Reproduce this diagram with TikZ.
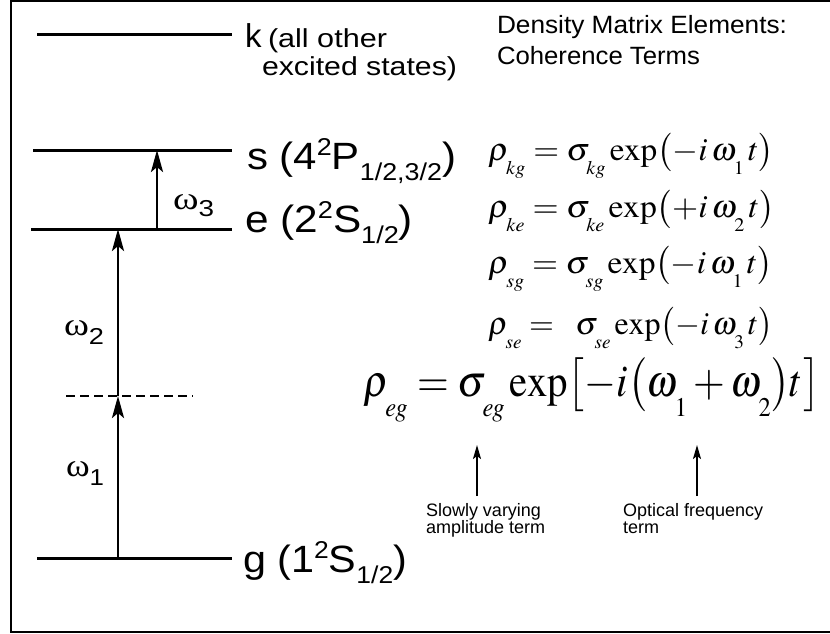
\documentclass[tikz,border=0pt]{standalone}
\usepackage{mathptmx}
\usepackage[no-math]{fontspec}
\newfontfamily\arial{Liberation Sans}
\newfontfamily\tms{Liberation Serif}
\usetikzlibrary{arrows.meta}
\newcommand\fs[1]{\fontsize{#1}{#1}\selectfont}
\newcommand\wid[2]{\resizebox{#1}{\height}{#2}}
\newcommand\upx[1]{\raisebox{0.36em}{\scalebox{0.64}{#1}}}
\newcommand\dnx[1]{\raisebox{-0.3em}{\scalebox{0.64}{#1}}}
\newcommand\lsb[1]{_{\raisebox{-0.3em}{$\scriptscriptstyle #1$}}}
\begin{document}
\begin{tikzpicture}[x=1pt,y=-1pt,
  txt/.style={inner sep=0pt,outer sep=0pt,anchor=base west},
  level/.style={line width=3pt},
  frame/.style={line width=2pt},
  excite/.style={line width=2.7pt,-{Stealth[length=22pt,width=12pt,inset=5pt]}},
  pointer/.style={line width=1.8pt,-{Stealth[length=14pt,width=8pt,inset=3pt]}},
  virtual/.style={line width=1.5pt,dash pattern=on 9pt off 5pt}]
\useasboundingbox (0,0) rectangle (830,634);
% frame
\draw[frame] (830,1.5) -- (11,1.5) -- (11,631.5) -- (830,631.5);
% levels
\coordinate (kA) at (37,35);  \coordinate (kB) at (232,35);
\coordinate (sA) at (33,150); \coordinate (sB) at (232,150);
\coordinate (eA) at (31,229); \coordinate (eB) at (232,229);
\coordinate (gA) at (37,558); \coordinate (gB) at (232,558);
\coordinate (vA) at (66,396); \coordinate (vB) at (193,396);
\draw[level] (kA) -- (kB);
\draw[level] (sA) -- (sB);
\draw[level] (eA) -- (eB);
\draw[level] (gA) -- (gB);
\draw[virtual] (vA) -- (vB);
% transitions
\coordinate (g1) at (118,558); \coordinate (v1) at (118,396); \coordinate (e1) at (118,229);
\coordinate (e3) at (157,229); \coordinate (s3) at (157,150);
\draw[excite] (g1) -- (v1);
\draw[excite] (v1) -- (e1);
\draw[excite] (e3) -- (s3);
% omega labels
\node[txt] (w3) at (173,209) {\wid{41pt}{\tms\fs{32}ω\raisebox{-7pt}{\arial\fs{23}3}}};
\node[txt] (w2) at (64,335) {\wid{40pt}{\tms\fs{32}ω\raisebox{-9pt}{\arial\fs{23}2}}};
\node[txt] (w1) at (66,476) {\wid{38pt}{\tms\fs{32}ω\raisebox{-9pt}{\arial\fs{23}1}}};
% level labels
\node[txt] (klab) at (245,48) {\arial\fs{33}k};
\node[txt] (kall) at (268,48) {\arial\fs{26}\wid{119pt}{(all other}};
\node[txt] (kexc) at (262,76) {\arial\fs{26}\wid{195pt}{excited states)}};
\node[txt] (slab) at (247,169) {\arial\fs{38}\wid{209pt}{s (4\upx{2}P\dnx{1/2,3/2})}};
\node[txt] (elab) at (245,232) {\arial\fs{38}\wid{168pt}{e (2\upx{2}S\dnx{1/2})}};
\node[txt] (glab) at (243,572) {\arial\fs{38}\wid{164pt}{g (1\upx{2}S\dnx{1/2})}};
% heading
\node[txt] (dens) at (497,34) {\arial\fs{25}\wid{290pt}{Density Matrix Elements:}};
\node[txt] (coh) at (497,64) {\arial\fs{25}\wid{203pt}{Coherence Terms}};
% equations
\node[txt] (eq1) at (488,160) {\fs{32}\wid{286pt}{$\rho\lsb{kg} = \sigma\lsb{kg}\exp\bigl(-i\,\omega\lsb{1}\,t\bigr)$}};
\node[txt] (eq2) at (488,217) {\fs{32}\wid{287pt}{$\rho\lsb{ke} = \sigma\lsb{ke}\exp\bigl(+i\,\omega\lsb{2}\,t\bigr)$}};
\node[txt] (eq3) at (488,273) {\fs{32}\wid{285pt}{$\rho\lsb{sg} = \sigma\lsb{sg}\exp\bigl(-i\,\omega\lsb{1}\,t\bigr)$}};
\node[txt] (eq4) at (488,334) {\fs{32}\wid{285pt}{$\rho\lsb{se} =\;\; \sigma\lsb{se}\exp\bigl(-i\,\omega\lsb{3}\,t\bigr)$}};
\node[txt] (eq5) at (363,396) {\fs{45}\wid{457pt}{$\rho\lsb{eg} = \sigma\lsb{eg}\exp\bigl[-i\bigl(\omega\lsb{1}+\omega\lsb{2}\bigr)t\bigr]$}};
% pointers
\coordinate (p1s) at (477,496); \coordinate (p1e) at (477,445);
\coordinate (p2s) at (697,496); \coordinate (p2e) at (697,445);
\draw[pointer] (p1s) -- (p1e);
\draw[pointer] (p2s) -- (p2e);
\node[txt] (slow1) at (426,516) {\arial\fs{18}Slowly varying};
\node[txt] (slow2) at (426,533) {\arial\fs{18}amplitude term};
\node[txt] (opt1) at (623,516) {\arial\fs{18}Optical frequency};
\node[txt] (opt2) at (623,533) {\arial\fs{18}term};
\end{tikzpicture}
\end{document}
